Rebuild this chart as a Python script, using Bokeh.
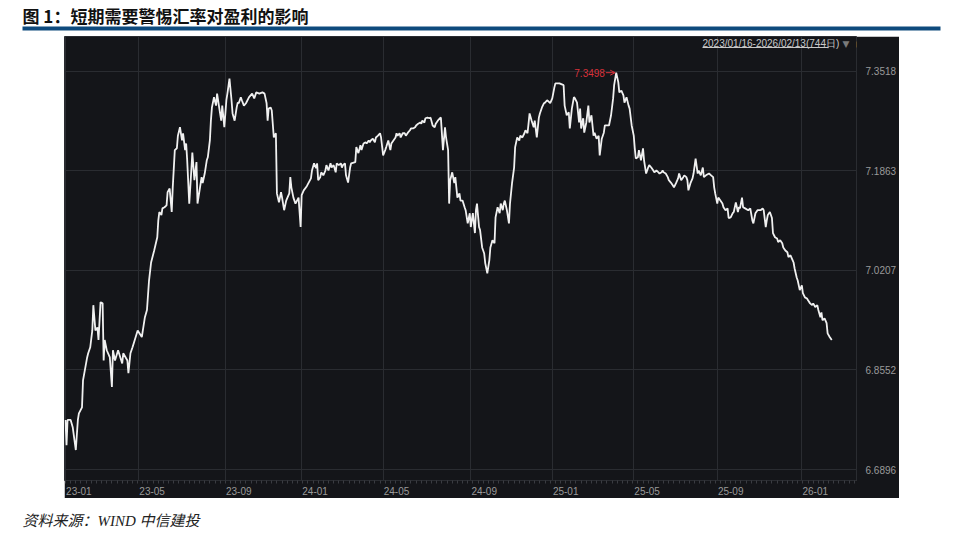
from bokeh.plotting import figure
from bokeh.models import Range1d, FixedTicker, Label, BoxAnnotation, Arrow, OpenHead, Spacer, PrintfTickFormatter
from bokeh.layouts import column, row
from bokeh.embed import file_html
from bokeh.resources import INLINE

title_text = "图 1：短期需要警惕汇率对盈利的影响"
source_text = "资料来源：WIND  中信建投"
range_text = "2023/01/16-2026/02/13(744日)"

# trading-day index (0 = 2023/01/16) and USD/CNY rate
day = [
    0, 1, 2, 5, 7, 10, 12, 13, 16, 17, 21, 22, 24, 26, 27, 29, 31, 32, 34, 36,
    37, 38, 40, 43, 45, 46, 48, 51, 55, 56, 60, 61, 63, 65, 70, 74, 77, 79, 81, 83, 86,
    89, 90, 91, 93, 94, 96, 98, 99, 101, 103, 104, 106, 108, 109, 111, 113, 114, 116, 117, 118,
    120, 122, 123, 125, 127, 128, 130, 132, 133, 135, 137, 138, 140, 141, 142, 144, 146, 147, 149, 151,
    152, 154, 156, 157, 159, 161, 162, 164, 166, 167, 168, 170, 171, 173, 175, 178, 181, 183, 185, 188,
    191, 193, 195, 196, 197, 199, 200, 202, 204, 205, 207, 209, 210, 212, 214, 217, 218, 219, 221, 223,
    226, 228, 229, 231, 234, 238, 239, 241, 243, 244, 245,
    247, 248, 250, 252, 253, 255, 257, 258, 260, 262, 263, 265, 267, 268, 269, 271, 272, 274, 276, 277,
    281, 282, 284, 286, 287, 289, 291, 292, 294, 295, 296, 298, 300, 301, 303, 305, 306, 308, 310, 311,
    313, 315, 316, 318, 320, 321, 322, 324, 325, 327, 329, 330, 332, 334, 335, 337, 339, 340, 342, 344,
    345, 346, 348, 349, 351, 353, 354, 356, 358, 359, 361, 363, 364, 366, 368, 369, 371, 372, 373, 375,
    377, 378, 380, 382, 383, 385, 387, 388, 390, 392, 393, 395, 397, 398, 399, 401, 402, 404, 406, 407,
    409, 411, 412, 414, 416, 417, 419, 421, 422, 424, 425, 426, 428, 430, 431, 433, 435, 436, 438, 440,
    441, 443, 445, 446, 448, 449, 450, 452, 454, 455, 457, 459, 460, 462, 464, 465, 467,
    470, 472, 474, 475, 476, 479, 483, 484, 486, 488, 489, 491, 493, 494, 496, 498, 499, 500, 502, 503,
    505, 507, 508, 510, 512, 513, 515, 517, 518, 520, 522, 523, 525, 527, 529, 531, 532, 534, 536, 537,
    539, 541, 542, 544, 546, 547, 549, 551, 552, 553, 555, 556, 558, 560, 561, 563, 565, 566, 568, 570,
    571, 573, 575, 576, 578, 579, 580, 582, 584, 585, 587, 589, 590, 592, 594, 595, 597, 599, 600, 602,
    603, 604, 606, 608, 609, 611, 613, 614, 616, 618, 619, 621, 624, 626, 628, 629, 630, 632, 633, 635,
    637, 638, 640, 642, 643, 645, 647, 648, 650, 652, 653, 654, 656, 657, 659, 662, 664, 666, 667, 669,
    671, 674, 676, 677, 679, 680, 681, 683, 685, 686, 688, 690, 691, 693, 695, 696, 698, 700, 701, 703,
    705, 706, 707, 709, 710, 712, 714, 715, 717, 719, 720, 722, 724, 725, 727, 729, 730, 732, 733, 734,
    736, 738, 739, 741, 743,
]
rate = [
    6.772, 6.730, 6.772, 6.772, 6.760, 6.722, 6.772, 6.783, 6.793, 6.838, 6.876, 6.883, 6.893, 6.921, 6.963, 6.921, 6.926, 6.905, 6.968, 6.966,
    6.871, 6.905, 6.888, 6.876, 6.827, 6.888, 6.871, 6.888, 6.866, 6.883, 6.871, 6.850, 6.883, 6.893, 6.921, 6.910, 6.943, 6.955, 7.004, 7.034, 7.054,
    7.076, 7.104, 7.118, 7.113, 7.124, 7.126, 7.129, 7.151, 7.157, 7.118, 7.159, 7.221, 7.224, 7.245, 7.259, 7.237, 7.249, 7.221, 7.232, 7.204,
    7.132, 7.187, 7.217, 7.171, 7.201, 7.132, 7.154, 7.176, 7.166, 7.182, 7.204, 7.209, 7.237, 7.270, 7.292, 7.309, 7.295, 7.315, 7.292, 7.270,
    7.295, 7.259, 7.304, 7.315, 7.340, 7.304, 7.282, 7.270, 7.292, 7.300, 7.299, 7.309, 7.304, 7.295, 7.299, 7.309, 7.315, 7.307, 7.317, 7.315,
    7.317, 7.315, 7.299, 7.270, 7.290, 7.292, 7.287, 7.242, 7.249, 7.149, 7.134, 7.151, 7.142, 7.121, 7.137, 7.149, 7.176, 7.159, 7.142, 7.132,
    7.142, 7.093, 7.146, 7.154, 7.161, 7.174, 7.187, 7.199, 7.191, 7.199, 7.171,
    7.176, 7.184, 7.179, 7.187, 7.196, 7.187, 7.199, 7.192, 7.196, 7.184, 7.199, 7.196, 7.199, 7.192, 7.196, 7.199, 7.179, 7.167, 7.192, 7.199,
    7.201, 7.226, 7.216, 7.229, 7.221, 7.232, 7.234, 7.232, 7.237, 7.234, 7.237, 7.240, 7.234, 7.242, 7.245, 7.249, 7.242, 7.212, 7.221, 7.226,
    7.237, 7.221, 7.232, 7.237, 7.242, 7.249, 7.245, 7.249, 7.242, 7.249, 7.249, 7.245, 7.250, 7.254, 7.257, 7.257, 7.259, 7.262, 7.265, 7.267,
    7.265, 7.270, 7.267, 7.274, 7.275, 7.274, 7.275, 7.262, 7.259, 7.265, 7.270, 7.274, 7.275, 7.221, 7.259, 7.242, 7.221, 7.132, 7.171, 7.184,
    7.166, 7.176, 7.142, 7.149, 7.137, 7.137, 7.126, 7.121, 7.099, 7.116, 7.093, 7.116, 7.083, 7.121, 7.132, 7.093, 7.088, 7.059, 7.049, 7.033,
    7.016, 7.038, 7.059, 7.071, 7.066, 7.109, 7.126, 7.116, 7.132, 7.121, 7.132, 7.137, 7.121, 7.099, 7.132, 7.166, 7.192, 7.226, 7.242, 7.237,
    7.245, 7.242, 7.249, 7.254, 7.249, 7.265, 7.282, 7.270, 7.259, 7.270, 7.242, 7.275, 7.282, 7.292, 7.299, 7.300, 7.304,
    7.299, 7.307, 7.325, 7.332, 7.332, 7.332, 7.329, 7.295, 7.279, 7.284, 7.257, 7.290, 7.309, 7.307, 7.300, 7.267, 7.290, 7.257, 7.274, 7.250,
    7.267, 7.295, 7.267, 7.279, 7.245, 7.250, 7.240, 7.245, 7.212, 7.240, 7.250, 7.262, 7.262, 7.262, 7.279, 7.307, 7.329, 7.3498, 7.334, 7.317,
    7.320, 7.312, 7.300, 7.309, 7.295, 7.290, 7.262, 7.245, 7.224, 7.207, 7.209, 7.221, 7.204, 7.224, 7.204, 7.182, 7.192, 7.196, 7.192, 7.187,
    7.184, 7.187, 7.184, 7.182, 7.184, 7.187, 7.184, 7.182, 7.176, 7.171, 7.167, 7.162, 7.159, 7.166, 7.174, 7.182, 7.171, 7.176, 7.179, 7.176,
    7.171, 7.154, 7.166, 7.174, 7.182, 7.207, 7.182, 7.187, 7.179, 7.192, 7.176, 7.179, 7.182, 7.179, 7.176, 7.159, 7.149, 7.132, 7.142, 7.137,
    7.132, 7.126, 7.121, 7.124, 7.108, 7.109, 7.116, 7.118, 7.134, 7.118, 7.126, 7.124, 7.142, 7.126, 7.124, 7.121, 7.124, 7.104, 7.099, 7.116,
    7.121, 7.121, 7.124, 7.121, 7.093, 7.104, 7.113, 7.118, 7.108, 7.083, 7.076, 7.074, 7.068, 7.071, 7.066, 7.059, 7.054, 7.051, 7.043, 7.046,
    7.038, 7.034, 7.024, 7.009, 7.004, 6.988, 6.996, 6.983, 6.976, 6.974, 6.971, 6.966, 6.963, 6.966, 6.960, 6.963, 6.955, 6.943, 6.951, 6.938,
    6.941, 6.933, 6.916, 6.910, 6.905,
]
assert len(day) == len(rate), (len(day), len(rate))

tick_day = [0, 71, 155, 229, 308, 393, 472, 551, 632, 714]
tick_label = ["23-01", "23-05", "23-09", "24-01", "24-05", "24-09", "25-01", "25-05", "25-09", "26-01"]
y_ticks = [6.6896, 6.8552, 7.0207, 7.1863, 7.3518]

LABEL_SHIFT = 13  # month labels sit just right of their grid line

BG = "#141519"
GRID = "#2a2c31"
RED = "#d8313a"
LABEL = "#9a9a9a"
FONT = "Liberation Sans"

# ---- title strip
t = figure(width=960, height=36, x_range=Range1d(0, 960), y_range=Range1d(0, 36),
           output_backend="svg", toolbar_location=None, x_axis_type=None, y_axis_type=None,
           min_border=0, outline_line_color=None)
t.add_layout(Label(x=22, y=34, text=title_text, text_baseline="top", text_font="Noto Sans CJK SC",
                   text_font_style="bold", text_font_size="17px", text_color="#111111"))
t.add_layout(BoxAnnotation(left=22, right=940, bottom=6, top=10, fill_color="#0e4a7d",
                           fill_alpha=1, line_color=None))

# ---- main chart
p = figure(width=835, height=462, x_range=Range1d(-0.96, 767.0), y_range=Range1d(6.6713, 7.4100),
           y_axis_location="right", output_backend="svg", toolbar_location=None,
           min_border_left=0, min_border_right=37, min_border_top=0, min_border_bottom=18,
           background_fill_color=BG, border_fill_color=BG, outline_line_color=GRID)

p.line(day, rate, line_color="#f0f0f0", line_width=1.8)

label_pos = [d + LABEL_SHIFT for d in tick_day]
p.xaxis.ticker = FixedTicker(ticks=label_pos, minor_ticks=list(range(0, 768, 5)))
p.xaxis.major_label_overrides = {d: l for d, l in zip(label_pos, tick_label)}
p.xgrid.ticker = FixedTicker(ticks=tick_day)
p.xaxis.major_tick_line_color = None
p.xaxis.minor_tick_line_color = "#3a3c42"
p.xaxis.minor_tick_in = 0
p.xaxis.minor_tick_out = 3
p.xaxis.major_label_standoff = 0
p.xaxis.axis_line_color = None

p.yaxis.ticker = FixedTicker(ticks=y_ticks)
p.yaxis.formatter = PrintfTickFormatter(format="%.4f")
p.yaxis.major_tick_line_color = None
p.yaxis.minor_tick_line_color = None
p.yaxis.axis_line_color = None
p.yaxis.major_label_standoff = 3

for ax in (p.xaxis, p.yaxis):
    ax.major_label_text_color = LABEL
    ax.major_label_text_font = FONT
    ax.major_label_text_font_size = "10px"

p.grid.grid_line_color = GRID
p.grid.grid_line_width = 1

# max annotation
i = max(range(len(rate)), key=lambda k: rate[k])
p.add_layout(Arrow(end=OpenHead(size=5, line_color=RED, line_width=1),
                   x_start=day[i] - 10, y_start=rate[i], x_end=day[i] - 1, y_end=rate[i],
                   line_color=RED, line_width=1))
p.add_layout(Label(x=day[i] - 10, y=rate[i], text=f"{rate[i]:.4f}", text_align="right",
                   text_baseline="middle", x_offset=-1, text_color=RED, text_font=FONT,
                   text_font_size="10px"))

# header inside panel (screen units from frame bottom-left)
p.add_layout(Label(x=638, y=437, x_units="screen", y_units="screen", text=range_text,
                   text_baseline="middle", text_color="#c8c8c8", text_font=FONT,
                   text_font_size="10px"))
p.add_layout(BoxAnnotation(left=638, right=764, bottom=432.5, top=433.5, left_units="screen",
                           right_units="screen", bottom_units="screen", top_units="screen",
                           fill_color="#c8c8c8", fill_alpha=1, line_color=None))
p.add_layout(Label(x=778, y=437, x_units="screen", y_units="screen", text="▼",
                   text_baseline="middle", text_color="#7a7a7a", text_font="DejaVu Sans",
                   text_font_size="9px"))
p.add_layout(BoxAnnotation(left=792, right=798, bottom=433, top=439, left_units="screen",
                           right_units="screen", bottom_units="screen", top_units="screen",
                           fill_color="#f0a020", fill_alpha=1, line_color=None))

# ---- footer strip
f = figure(width=960, height=36, x_range=Range1d(0, 960), y_range=Range1d(0, 36),
           output_backend="svg", toolbar_location=None, x_axis_type=None, y_axis_type=None,
           min_border=0, outline_line_color=None)
f.add_layout(Label(x=22, y=14, text=source_text, text_baseline="middle",
                   text_font="Liberation Serif, Noto Sans CJK SC", text_font_style="italic",
                   text_font_size="15px", text_color="#222222"))

layout = column(t, row(Spacer(width=64, height=462), p), f)

open("out.html", "w").write(file_html(layout, INLINE))
